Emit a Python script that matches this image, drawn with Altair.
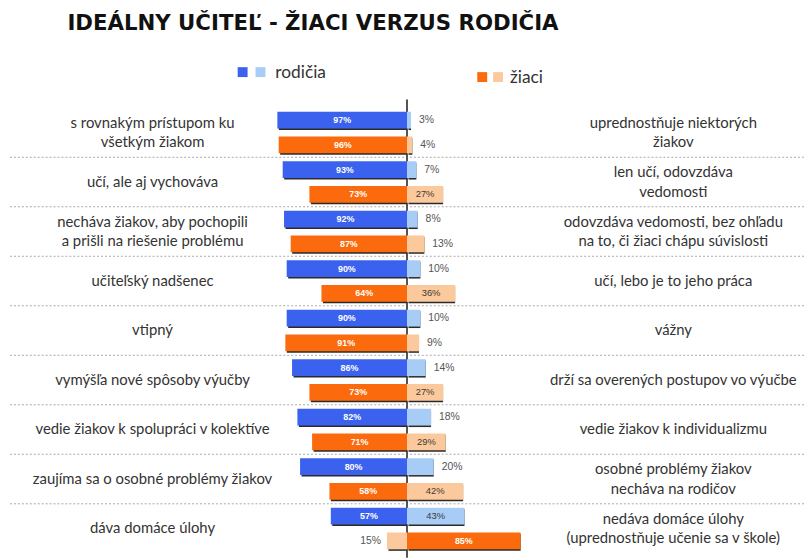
import altair as alt
import pandas as pd

# ---- data ----
left_labels = [
    "s rovnakým prístupom ku\nvšetkým žiakom",
    "učí, ale aj vychováva",
    "necháva žiakov, aby pochopili\na prišli na riešenie problému",
    "učiteľský nadšenec",
    "vtipný",
    "vymýšľa nové spôsoby výučby",
    "vedie žiakov k spolupráci v kolektíve",
    "zaujíma sa o osobné problémy žiakov",
    "dáva domáce úlohy",
]
right_labels = [
    "uprednostňuje niektorých\nžiakov",
    "len učí, odovzdáva\nvedomosti",
    "odovzdáva vedomosti, bez ohľadu\nna to, či žiaci chápu súvislosti",
    "učí, lebo je to jeho práca",
    "vážny",
    "drží sa overených postupov vo výučbe",
    "vedie žiakov k individualizmu",
    "osobné problémy žiakov\nnecháva na rodičov",
    "nedáva domáce úlohy\n(uprednostňuje učenie sa v škole)",
]
groups = ["rodičia", "žiaci"]
rodicia_left = [97, 93, 92, 90, 90, 86, 82, 80, 57]
rodicia_right = [3, 7, 8, 10, 10, 14, 18, 20, 43]
ziaci_left = [96, 73, 87, 64, 91, 73, 71, 58, 15]
ziaci_right = [4, 27, 13, 36, 9, 27, 29, 42, 85]
title_text = "IDEÁLNY UČITEĽ - ŽIACI VERZUS RODIČIA"

DARK_BLUE, LIGHT_BLUE, DARK_OR, LIGHT_OR = "#3b62ee", "#a7cdf6", "#fb6a0c", "#fcc99c"

# ---- build long table ----
row_keys = [f"{i}|{g}" for i in range(len(left_labels)) for g in groups]
rows = []
series = {"rodičia": (rodicia_left, rodicia_right), "žiaci": (ziaci_left, ziaci_right)}
for i, item in enumerate(left_labels):
    for g in groups:
        lv, rv = series[g][0][i], series[g][1][i]
        for side, v in (("left", lv), ("right", rv)):
            shade = "dark" if v > 50 else "light"
            rows.append({
                "row": f"{i}|{g}", "side": side, "value": v,
                "start": -v if side == "left" else 0,
                "end": 0 if side == "left" else v,
                "mid": (-v / 2) if side == "left" else (v / 2),
                "key": f"{g}|{shade}",
                "shade": shade,
                "label": f"{v}%",
                "pos": "in" if v >= 25 else ("outL" if side == "left" else "outR"),
            })
df = pd.DataFrame(rows)
items_df = pd.DataFrame({
    "item": left_labels, "right": right_labels,
    "idx": list(range(len(left_labels))),
    "rkey": [f"{i}|rodičia" for i in range(len(left_labels))],
    "lmulti": ["\n" in s for s in left_labels],
    "rmulti": ["\n" in s for s in right_labels],
    "zero": [0] * len(left_labels),
})

color_scale = alt.Scale(
    domain=["rodičia|dark", "rodičia|light", "žiaci|dark", "žiaci|light"],
    range=[DARK_BLUE, LIGHT_BLUE, DARK_OR, LIGHT_OR],
)

W, H = 804, 450
xscale = alt.Scale(domain=[-298.5, 297], nice=False, zero=False)
yscale = alt.Scale(domain=row_keys, paddingInner=0, paddingOuter=0)

def X(f):
    return alt.X(f, scale=xscale, axis=None)

Y = alt.Y("row:N", scale=yscale, axis=None)
YK = alt.Y("rkey:N", scale=yscale, axis=None)
base = alt.Chart(df)

# separators between items (a row band is 25px; rule sits at band centre, shifted up)
sep = alt.Chart(items_df).transform_filter("datum.idx > 0").mark_rule(
    color="#a8a8a8", strokeDash=[2, 2], strokeWidth=1, yOffset=-12.5
).encode(y=YK, x=alt.value(2), x2=alt.value(W))

shadow = base.mark_bar(size=17, color="#2a2a2a", xOffset=1.5, yOffset=1.5).encode(
    x=X("start:Q"), x2="end:Q", y=Y,
)
bars = base.mark_bar(size=17).encode(
    x=X("start:Q"), x2="end:Q", y=Y,
    color=alt.Color("key:N", scale=color_scale, legend=None),
)

inside_dark = base.transform_filter("datum.pos == 'in' && datum.shade == 'dark'").mark_text(
    fontSize=9, fontWeight="bold", font="Liberation Sans", baseline="middle", color="#ffffff"
).encode(x=X("mid:Q"), y=Y, text="label:N")
inside_light = base.transform_filter("datum.pos == 'in' && datum.shade == 'light'").mark_text(
    fontSize=9.5, font="Liberation Sans", baseline="middle", color="#3a3a3a"
).encode(x=X("mid:Q"), y=Y, text="label:N")
out_right = base.transform_filter("datum.pos == 'outR'").mark_text(
    fontSize=10.5, font="Liberation Sans", align="left", baseline="middle", dx=8, color="#555555"
).encode(x=X("end:Q"), y=Y, text="label:N")
out_left = base.transform_filter("datum.pos == 'outL'").mark_text(
    fontSize=10.5, font="Liberation Sans", align="right", baseline="middle", dx=-6, color="#555555"
).encode(x=X("start:Q"), y=Y, text="label:N")

axis_line = alt.Chart(items_df).mark_rule(color="#555555", strokeWidth=1).encode(
    x=X("zero:Q"), y=alt.value(-8), y2=alt.value(H + 4),
)

# category texts: one-line ones centred on the row, two-line ones shifted up by half a line
def cat_text(field, flag, multi, px):
    return alt.Chart(items_df).transform_filter(
        f"datum.{flag}" if multi else f"!datum.{flag}"
    ).mark_text(
        fontSize=15, font="Lato", color="#333333", align="center", baseline="middle",
        lineBreak="\n", lineHeight=20, dy=2.5 if multi else 12.5
    ).encode(y=YK, x=alt.value(px), text=f"{field}:N")

left_txt1 = cat_text("item", "lmulti", False, 146)
left_txt2 = cat_text("item", "lmulti", True, 146)
right_txt1 = cat_text("right", "rmulti", False, 672)
right_txt2 = cat_text("right", "rmulti", True, 672)

# custom legend: two swatches per group, and the title
one = pd.DataFrame({"a": [0]})
def swatch(color, px, py):
    return alt.Chart(one).mark_square(size=100, opacity=1, color=color).encode(
        x=alt.value(px), y=alt.value(py))
def ltext(txt, px, py, size=17.5, weight="normal", font="Lato", color="#333333"):
    return alt.Chart(one).mark_text(
        fontSize=size, fontWeight=weight, font=font, color=color, align="left", baseline="middle", text=txt
    ).encode(x=alt.value(px), y=alt.value(py))

legend_layers = [
    swatch(DARK_BLUE, 237, -36), swatch(LIGHT_BLUE, 255, -36), ltext(groups[0], 270, -35),
    swatch(DARK_OR, 479, -31), swatch(LIGHT_OR, 495, -31), ltext(groups[1], 507, -30),
]
title = ltext(title_text, 60, -85, size=21.5, weight="bold", font="DejaVu Sans", color="#111111")

chart = alt.layer(
    sep, axis_line, shadow, bars, inside_dark, inside_light, out_right, out_left,
    left_txt1, left_txt2, right_txt1, right_txt2, *legend_layers, title
).properties(
    width=W, height=H,
    padding={"left": 0, "top": 98, "right": 0, "bottom": 4},
    autosize=alt.AutoSizeParams(type="none"),
    background="white",
).configure_view(stroke=None)

chart.save("out.html", embed_options={"renderer": "svg", "actions": False})
